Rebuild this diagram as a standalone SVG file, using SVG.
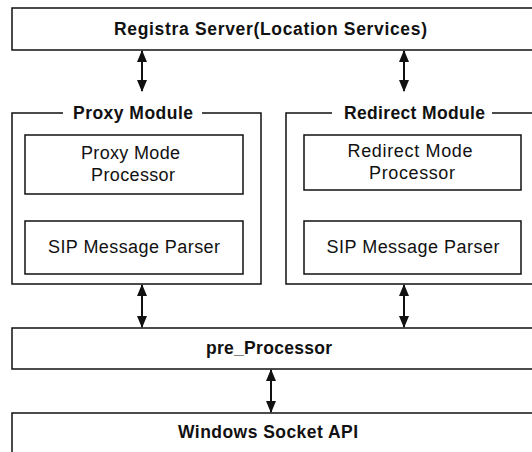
<svg xmlns="http://www.w3.org/2000/svg" width="532" height="452" viewBox="0 0 532 452">
<defs>
<style>
.box{fill:#fff;stroke:#111;stroke-width:1.5}
.frame{fill:none;stroke:#111;stroke-width:1.5}
.b{font-family:"Liberation Sans",Arial,sans-serif;font-size:17.5px;font-weight:bold;fill:#111;text-anchor:middle}
.n{font-family:"Liberation Sans",Arial,sans-serif;font-size:18px;fill:#111;text-anchor:middle}
.arr{stroke:#111;stroke-width:2;fill:none;marker-start:url(#ah);marker-end:url(#ah)}
</style>
<marker id="ah" viewBox="0 0 12 10" refX="11" refY="5" markerWidth="12" markerHeight="10" markerUnits="userSpaceOnUse" orient="auto-start-reverse">
<path d="M0,0 L12,5 L0,10 Z" fill="#111"/>
</marker>
</defs>
<rect width="532" height="452" fill="#fff"/>
<g id="connectors">
<line class="arr" x1="142" y1="51" x2="142" y2="91"/>
<line class="arr" x1="404" y1="51" x2="404" y2="91"/>
<line class="arr" x1="142" y1="285" x2="142" y2="327"/>
<line class="arr" x1="404" y1="285" x2="404" y2="327"/>
<line class="arr" x1="271" y1="370" x2="271" y2="412"/>
</g>
<g id="registra">
<rect class="box" x="12" y="8" width="530" height="42"/>
<text class="b" x="270.5" y="35" textLength="313" lengthAdjust="spacing">Registra Server(Location Services)</text>
</g>
<g id="proxy-module">
<path class="frame" d="M63,113 H12 V284 H261 V113 H202"/>
<text class="b" x="133" y="119" textLength="120" lengthAdjust="spacing">Proxy Module</text>
</g>
<g id="proxy-mode-processor">
<rect class="box" x="25" y="135" width="218" height="59"/>
<text class="n" x="130.5" y="159" textLength="99" lengthAdjust="spacing">Proxy Mode</text>
<text class="n" x="133" y="181" textLength="84" lengthAdjust="spacing">Processor</text>
</g>
<g id="proxy-sip-parser">
<rect class="box" x="25" y="221" width="218" height="53"/>
<text class="n" x="134" y="253" textLength="172" lengthAdjust="spacing">SIP Message Parser</text>
</g>
<g id="redirect-module">
<path class="frame" d="M332,113 H286 V284 H542 M492,113 H542"/>
<text class="b" x="414.5" y="119" textLength="141" lengthAdjust="spacing">Redirect Module</text>
</g>
<g id="redirect-mode-processor">
<rect class="box" x="304" y="135" width="217" height="55"/>
<text class="n" x="410" y="157" textLength="125" lengthAdjust="spacing">Redirect Mode</text>
<text class="n" x="412" y="179" textLength="86" lengthAdjust="spacing">Processor</text>
</g>
<g id="redirect-sip-parser">
<rect class="box" x="304" y="221" width="217" height="53"/>
<text class="n" x="413" y="253" textLength="173" lengthAdjust="spacing">SIP Message Parser</text>
</g>
<g id="pre-processor">
<rect class="box" x="12" y="328" width="530" height="41"/>
<text class="b" x="269" y="354" textLength="126" lengthAdjust="spacing">pre_Processor</text>
</g>
<g id="windows-socket">
<rect class="box" x="12" y="413" width="530" height="50"/>
<text class="b" x="268" y="438" textLength="180" lengthAdjust="spacing">Windows Socket API</text>
</g>
</svg>
